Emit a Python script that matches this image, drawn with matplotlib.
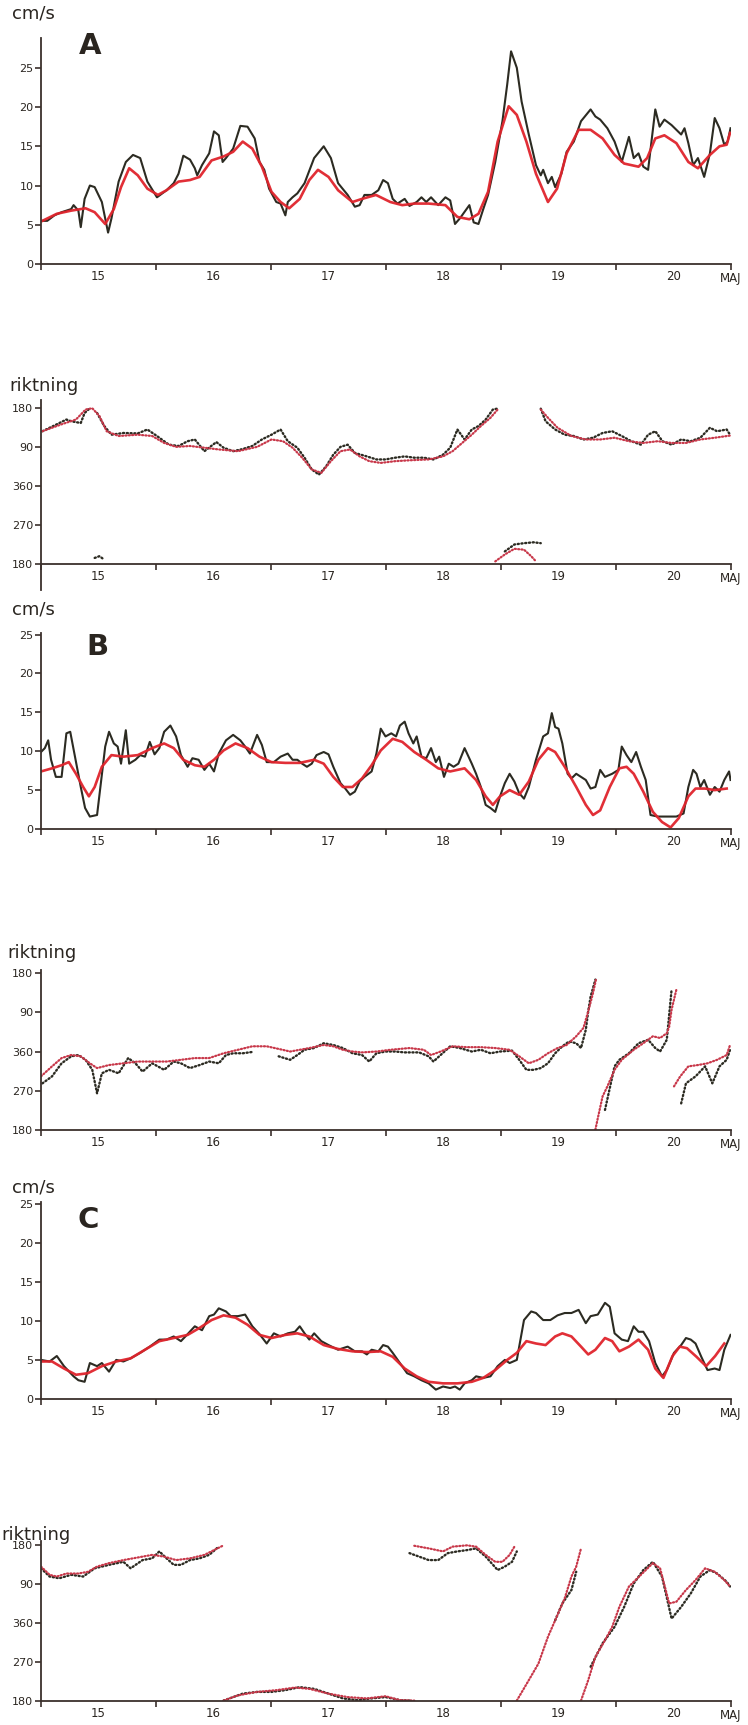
import numpy as np
import matplotlib.pyplot as plt

plt.rcParams['font.family'] = ['Liberation Sans Narrow', 'DejaVu Sans']

# ---- data (hours after 15 May 00:00) ----
nan = np.nan
day_labels = ['15', '16', '17', '18', '19', '20']
dir_ticks = [180, 270, 360, 450, 540]
dir_labels = ['180', '270', '360', '90', '180']

# station A, speed (cm/s)
a_raw_h = [0.3, 1.3, 2.8, 4.3, 6.3, 6.8, 7.8, 8.3, 9.1, 10.2, 11.2, 12.7, 14.0, 14.7, 16.2, 17.7, 19.2, 20.7,
           22.2, 24.2, 26.2, 27.7, 28.7, 29.7, 31.1, 32.1, 32.6, 33.6, 35.1, 36.1, 37.1, 37.9, 38.6, 40.1,
           41.6, 43.1, 44.6, 45.6, 46.6, 47.6, 49.1, 50.0, 51.0, 51.5, 52.5, 53.5, 55.0, 57.0, 59.0, 60.5,
           62.0, 63.2, 64.0, 65.5, 66.5, 67.5, 69.0, 70.4, 71.4, 72.4, 73.4, 74.4, 75.9, 76.9, 78.4, 79.4,
           80.4, 81.4, 82.9, 84.4, 85.4, 86.4, 87.4, 89.4, 90.3, 91.3, 92.3, 93.3, 94.8, 96.3, 97.3, 98.1,
           99.3, 100.3, 101.8, 103.3, 104.3, 104.8, 105.8, 106.6, 107.3, 108.6, 109.7, 111.2, 112.7, 114.7,
           115.7, 116.7, 118.2, 119.7, 121.2, 122.7, 123.7, 124.7, 125.7, 126.7, 128.2, 129.1, 130.1, 131.6,
           132.6, 133.6, 134.3, 135.1, 136.1, 137.1, 138.4, 139.6, 140.6, 141.6, 142.6, 143.3, 143.9]
a_raw_v = [5.5, 5.5, 6.2, 6.6, 7.0, 7.5, 6.8, 4.7, 8.3, 10.0, 9.8, 7.9, 4.0, 5.8, 10.5, 13.0, 13.9, 13.5,
           10.5, 8.5, 9.4, 10.3, 11.5, 13.8, 13.3, 12.2, 11.3, 12.6, 14.1, 16.9, 16.4, 13.0, 13.5, 14.7,
           17.6, 17.5, 16.0, 13.0, 12.0, 9.6, 7.9, 7.7, 6.2, 7.9, 8.5, 9.0, 10.3, 13.5, 15.0, 13.5,
           10.3, 9.4, 8.8, 7.3, 7.5, 8.8, 8.8, 9.4, 10.7, 10.3, 8.3, 7.7, 8.3, 7.4, 7.9, 8.5,
           7.9, 8.5, 7.5, 8.5, 8.1, 5.1, 5.8, 7.5, 5.3, 5.1, 7.0, 8.8, 13.0, 18.2, 22.9, 27.1,
           25.0, 20.7, 16.5, 12.6, 11.3, 12.0, 10.3, 11.1, 9.8, 11.5, 14.3, 15.6, 18.2, 19.7,
           18.8, 18.4, 17.3, 15.6, 13.0, 16.2, 13.5, 14.1, 12.4, 12.0, 19.7, 17.5, 18.4, 17.7,
           17.1, 16.5, 17.3, 15.4, 12.6, 13.5, 11.1, 14.1, 18.6, 17.3, 15.2, 15.6, 17.3]
a_fil_h = [0.3, 3.3, 6.3, 9.3, 11.2, 13.4, 15.2, 16.7, 18.4, 20.2, 22.2, 24.4, 26.2, 28.7, 31.1, 33.1,
           35.6, 38.1, 40.1, 42.1, 44.1, 46.1, 48.1, 50.0, 51.8, 54.0, 56.0, 57.8, 60.0, 62.0, 65.0,
           67.0, 69.9, 72.9, 75.4, 77.9, 80.9, 84.4, 86.9, 89.4, 91.3, 93.3, 95.3, 97.6, 99.3, 101.3,
           103.3, 105.8, 107.7, 109.7, 112.2, 114.7, 117.2, 119.7, 121.7, 124.7, 126.5, 128.2, 130.1,
           132.6, 135.1, 137.1, 139.6, 141.6, 143.1, 143.8]
a_fil_v = [5.5, 6.4, 6.8, 7.1, 6.6, 5.1, 7.0, 9.8, 12.2, 11.3, 9.6, 8.8, 9.4, 10.5, 10.7, 11.1,
           13.2, 13.7, 14.3, 15.6, 14.7, 12.4, 9.2, 7.9, 7.1, 8.3, 10.7, 12.0, 11.1, 9.4, 7.9,
           8.3, 8.8, 7.9, 7.5, 7.7, 7.7, 7.5, 6.0, 5.7, 6.4, 9.2, 15.6, 20.1, 19.0, 15.6,
           11.5, 7.9, 9.6, 14.1, 17.1, 17.1, 16.0, 13.9, 12.8, 12.4, 13.5, 16.0, 16.4,
           15.4, 13.0, 12.2, 13.9, 15.0, 15.2, 16.7]

# station A, direction (degrees)
a_dir_raw_h = [0.3, 3.3, 5.3, 6.3, 8.3, 9.1, 10.2, nan, 11.2, 12.2, 13.2, nan, 11.7, 13.2, 14.7, 17.2, 20.2,
               22.2, 24.2, 26.7, 28.7, 30.6, 32.1, 34.1, 36.6, 38.1, 40.1, 42.1, 44.1, 46.1, 48.1, 50.0,
               51.5, 53.5, 55.0, 56.5, 58.0, 59.5, 61.0, 62.5, 64.0, 65.5, 68.0, 70.0, 71.9, 73.9, 75.9,
               77.9, 79.9, 81.9, 83.9, 85.4, 86.9, 88.4, 89.9, 91.3, 92.8, 94.3, 95.6, nan,
               96.8, 98.8, 100.8, 102.8, 104.3, nan, 104.3, 105.3, 107.3, 109.3, 111.2, 113.2, 115.2,
               117.2, 119.2, 121.2, 123.2, 125.2, 126.7, 128.2, 129.7, 131.6, 133.6, 135.6, 137.6,
               139.6, 141.1, 143.1, 143.8]
a_dir_raw_d = [126, 142, 153, 149, 145, 168, 179, nan, 194, 198, 190, nan, 168, 138, 118, 122, 121,
               130, 115, 95, 92, 103, 107, 80, 101, 88, 80, 85, 92, 107, 118, 130,
               103, 88, 65, 38, 26, 45, 72, 90, 95, 76, 68, 61, 61, 65, 68,
               65, 65, 61, 72, 88, 130, 107, 130, 138, 153, 176, 179, nan,
               209, 225, 228, 230, 228, nan, 178, 149, 130, 118, 115, 107, 111,
               122, 126, 115, 103, 95, 118, 126, 103, 95, 107, 103, 111,
               134, 126, 130, 118]
a_dir_fil_h = [0.3, 4.3, 7.3, 9.3, 10.7, 12.2, 13.7, 16.2, 20.2, 23.2, 25.7, 28.2, 31.1, 34.1, 37.1,
               41.1, 45.1, 48.1, 50.5, 52.5, 54.5, 56.5, 58.5, 60.5, 62.5, 64.5, 66.5, 68.5, 70.9,
               73.9, 76.9, 80.9, 83.9, 85.9, 87.9, 89.9, 91.8, 93.8, 95.3, nan,
               94.8, 96.8, 98.8, 100.8, 102.3, 103.3, nan,
               104.3, 105.8, 107.8, 110.7, 113.7, 116.7, 119.7, 122.7, 125.7, 128.7, 131.6, 134.6,
               137.6, 140.6, 143.8]
a_dir_fil_d = [126, 142, 153, 176, 179, 161, 126, 115, 118, 115, 99, 90, 92, 88, 84,
               80, 90, 107, 103, 88, 65, 38, 30, 57, 80, 84, 68, 57, 53,
               57, 59, 61, 68, 80, 99, 118, 138, 157, 176, nan,
               186, 202, 215, 213, 198, 186, nan,
               176, 157, 134, 115, 107, 107, 111, 103, 99, 103, 99, 99,
               107, 111, 116]

# station B, speed
b_raw_h = [0, 0.8, 1.5, 2.1, 3.1, 4.3, 5.3, 6.1, 7.1, 8.3, 9.2, 10.2, 11.7, 12.4, 13.4, 14.2, 15.2,
           16.0, 16.7, 17.7, 18.4, 19.7, 20.7, 21.7, 22.7, 23.7, 24.7, 25.7, 27.0, 28.2, 29.2, 30.6,
           31.6, 32.9, 34.1, 35.1, 36.1, 37.1, 38.6, 40.1, 41.6, 42.6, 43.6, 45.1, 46.1, 47.1, 48.6,
           50.0, 51.5, 52.5, 53.5, 54.5, 55.5, 56.5, 57.5, 59.0, 60.0, 61.0, 62.5, 63.5, 64.5, 65.5,
           66.5, 67.5, 69.0, 70.0, 70.9, 71.9, 73.1, 74.1, 74.9, 75.9, 76.7, 77.7, 78.4, 79.4, 80.4,
           81.4, 82.4, 83.1, 84.1, 85.1, 86.1, 87.1, 88.4, 89.9, 90.8, 91.8, 92.8, 93.8, 94.8, 95.8,
           96.8, 97.8, 98.8, 99.8, 100.8, 101.8, 103.3, 104.8, 105.8, 106.6, 107.3, 108.0, 108.8,
           109.9, 110.7, 111.7, 112.7, 113.7, 114.7, 115.7, 116.7, 117.7, 119.2, 120.5, 121.2, 122.2,
           123.2, 124.2, 125.2, 126.2, 127.2, 128.7, 130.6, 132.6, 134.1, 135.1, 136.1, 136.8, 137.6,
           138.4, 139.6, 140.6, 141.6, 142.6, 143.6, 143.9]
b_raw_v = [9.9, 10.4, 11.4, 8.9, 6.7, 6.7, 12.3, 12.5, 9.3, 5.4, 2.7, 1.6, 1.8, 5.4, 10.6, 12.5, 11.0,
           10.6, 8.4, 12.7, 8.4, 8.9, 9.5, 9.3, 11.2, 9.6, 10.4, 12.5, 13.3, 11.9, 9.5, 8.0,
           9.1, 8.9, 7.6, 8.4, 7.4, 9.7, 11.4, 12.1, 11.4, 10.6, 9.7, 12.1, 10.8, 8.6, 8.6,
           9.3, 9.7, 8.9, 8.9, 8.4, 8.0, 8.4, 9.5, 9.9, 9.6, 8.0, 5.9, 5.2, 4.4, 4.8,
           6.1, 6.7, 7.4, 9.7, 12.9, 11.9, 12.3, 11.9, 13.3, 13.8, 12.3, 11.0, 11.9, 9.3, 9.1,
           10.4, 8.6, 9.3, 6.7, 8.4, 8.0, 8.4, 10.4, 8.4, 7.1, 5.4, 3.1, 2.7, 2.2, 4.2,
           5.9, 7.1, 6.1, 4.6, 3.9, 5.4, 8.9, 11.9, 12.3, 14.9, 13.1, 12.9, 11.0,
           7.1, 6.5, 7.1, 6.7, 6.3, 5.2, 5.4, 7.6, 6.7, 7.1, 7.6, 10.6, 9.5,
           8.6, 9.9, 8.0, 6.3, 1.8, 1.6, 1.6, 1.6, 2.0, 5.4, 7.6, 7.1, 5.4,
           6.3, 4.4, 5.4, 4.8, 6.3, 7.4, 6.3]
b_fil_h = [0, 2.3, 4.3, 5.8, 7.3, 8.8, 10.0, 11.2, 12.7, 14.7, 17.2, 20.2, 23.2, 25.7, 27.7, 29.7,
           32.1, 34.1, 36.1, 38.1, 40.6, 43.1, 45.6, 48.1, 51.0, 54.0, 57.0, 59.0, 61.0, 63.0, 65.0,
           67.0, 69.0, 70.9, 73.4, 75.4, 77.9, 80.4, 82.9, 85.4, 88.4, 90.8, 92.8, 94.3, 95.8, 97.8,
           99.8, 101.8, 103.8, 105.8, 107.3, 109.3, 111.7, 113.7, 115.2, 116.7, 118.7, 120.7, 122.2,
           123.7, 125.7, 127.7, 129.6, 131.4, 133.1, 135.1, 136.6, 138.6, 140.6, 143.1]
b_fil_v = [7.4, 7.8, 8.2, 8.6, 7.1, 5.4, 4.2, 5.4, 8.0, 9.5, 9.3, 9.5, 10.4, 11.0, 10.4, 8.9,
           8.2, 8.0, 8.9, 10.1, 11.0, 10.4, 9.3, 8.6, 8.5, 8.5, 8.9, 8.4, 6.7, 5.4, 5.4,
           6.5, 8.2, 10.1, 11.6, 11.2, 9.9, 8.9, 7.8, 7.4, 7.8, 6.3, 4.2, 3.1, 4.2, 5.0,
           4.4, 6.1, 8.9, 10.4, 9.9, 8.0, 5.4, 3.1, 1.8, 2.4, 5.4, 7.8, 8.0,
           7.1, 4.8, 2.2, 0.9, 0.2, 1.4, 4.2, 5.2, 5.2, 5.0, 5.2]

# station B, direction
b_dir_raw_h = [0.3, 2.3, 4.3, 6.3, 7.8, 9.3, 10.7, 11.7, 12.7, 14.2, 16.2, 18.2, 19.7, 21.2, 23.2, 25.7,
               27.7, 29.2, 31.1, 33.1, 35.1, 37.1, 38.6, 40.1, 42.1, 44.1, nan,
               49.6, 52.0, 53.5, 55.0, 57.0, 59.0, 61.0, 63.0, 65.0, 67.0, 68.5, 70.0, 71.9, 73.9, 75.9,
               78.9, 80.9, 81.9, 83.4, 85.4, 87.4, 89.9, 91.8, 93.8, 95.8, 98.3, 99.8, 101.3, 102.8,
               104.3, 105.8, 107.3, 108.8, 110.2, 111.7, 112.7, 113.7, 114.2, 114.7, 115.7, nan,
               117.7, 119.7, 120.7, 122.7, 124.7, 126.7, 128.2, 129.2, 130.6, 131.6, nan,
               133.6, 134.6, 136.6, 138.6, 140.1, 141.6, 143.1, 143.8]
b_dir_raw_d = [287, 303, 333, 349, 352, 341, 318, 264, 310, 318, 310, 345, 333, 314, 333, 318,
               337, 333, 322, 329, 337, 333, 352, 356, 356, 359, nan,
               349, 341, 352, 4, 8, 19, 15, 8, 356, 352, 337, 356, 0, 0, 358,
               358, 349, 337, 352, 12, 8, 0, 4, 356, 0, 2, 341, 318, 318,
               322, 333, 356, 12, 23, 19, 8, 50, 92, 126, 165, nan,
               226, 326, 341, 356, 19, 27, 8, 0, 27, 142, nan,
               241, 287, 303, 326, 287, 326, 341, 4]
b_dir_fil_h = [0, 2.3, 4.3, 6.3, 8.3, 10.2, 11.7, 14.2, 17.2, 20.2, 23.2, 26.2, 29.2, 32.1, 35.1, 38.1,
               41.1, 44.1, 47.1, 50.0, 52.0, 54.0, 56.0, 59.0, 61.0, 63.0, 65.0, 67.0, 70.0, 72.9,
               76.9, 79.9, 81.4, 83.4, 85.9, 88.9, 91.8, 94.8, 97.8, 99.8, 101.8, 103.8, 105.8, 107.8,
               109.7, 111.7, 113.2, 114.2, 115.2, 115.9, nan,
               115.7, 116.2, 117.2, 118.2, 119.7, 121.2, 123.7, 125.7, 127.7, 129.2, 130.6, 131.1,
               131.6, 132.6, nan, 132.1, 133.4, 135.1, 137.1, 139.1, 141.1, 143.1, 143.8]
b_dir_fil_d = [303, 326, 345, 352, 349, 333, 322, 329, 333, 337, 337, 337, 341, 345, 345, 356,
               4, 12, 12, 5, 0, 4, 8, 15, 12, 4, 0, 358, 0, 4,
               8, 4, 352, 0, 12, 10, 10, 8, 4, 349, 333, 341, 356, 8,
               15, 35, 54, 92, 134, 169, nan,
               181, 207, 257, 280, 318, 341, 4, 19, 35, 31, 42, 57,
               96, 142, nan, 280, 303, 326, 329, 333, 341, 352, 15]

# station C, speed
c_raw_h = [0, 1.8, 3.3, 4.8, 6.8, 7.8, 9.1, 10.2, 11.7, 12.7, 14.2, 15.7, 17.2, 18.7, 20.7, 22.7, 24.7,
           26.2, 27.7, 29.2, 30.6, 32.1, 33.6, 35.1, 36.1, 37.1, 38.6, 39.6, 41.1, 42.6, 44.1, 45.6,
           47.1, 48.6, 50.0, 51.5, 53.0, 54.0, 55.0, 56.0, 57.0, 58.5, 60.0, 62.0, 64.0, 65.5, 67.0,
           68.0, 69.0, 70.4, 71.4, 72.4, 73.4, 74.9, 76.4, 77.9, 79.4, 80.9, 82.4, 83.9, 85.4, 86.4,
           87.4, 88.4, 89.9, 90.8, 92.3, 93.8, 95.3, 96.8, 97.8, 99.3, 100.8, 102.3, 103.3, 104.8,
           106.3, 107.8, 109.3, 110.7, 112.2, 113.7, 114.7, 116.2, 117.7, 118.7, 119.7, 121.2, 122.5,
           123.7, 124.7, 125.7, 126.9, 128.2, 129.6, 130.6, 132.1, 133.6, 134.6, 135.6, 136.6, 137.8,
           139.1, 140.6, 141.6, 142.6, 143.9]
c_raw_v = [5.0, 4.8, 5.5, 4.2, 2.9, 2.4, 2.2, 4.6, 4.2, 4.6, 3.5, 5.0, 4.8, 5.2, 5.9, 6.7, 7.6,
           7.6, 8.0, 7.4, 8.3, 9.3, 8.8, 10.6, 10.8, 11.6, 11.2, 10.6, 10.6, 10.8, 9.3, 8.3,
           7.1, 8.4, 8.0, 8.4, 8.6, 9.3, 8.4, 7.6, 8.4, 7.4, 6.9, 6.3, 6.7, 6.1, 6.1,
           5.7, 6.3, 6.1, 6.9, 6.7, 5.9, 4.6, 3.3, 2.9, 2.4, 2.0, 1.2, 1.6, 1.4, 1.6,
           1.2, 2.0, 2.4, 2.9, 2.7, 2.9, 4.2, 5.0, 4.6, 5.0, 10.1, 11.2, 11.0, 10.1,
           10.1, 10.7, 11.0, 11.0, 11.4, 9.7, 10.6, 10.8, 12.3, 11.8, 8.4, 7.6, 7.4,
           9.3, 8.6, 8.6, 7.4, 4.6, 2.9, 3.7, 5.9, 6.9, 7.8, 7.6, 7.1, 5.4,
           3.7, 3.9, 3.7, 6.3, 8.2]
c_fil_h = [0, 2.3, 4.8, 7.3, 9.8, 12.7, 15.7, 18.7, 21.7, 24.7, 27.7, 30.6, 33.1, 35.6, 38.1, 40.6,
           43.1, 45.6, 48.1, 51.0, 53.5, 56.0, 59.0, 62.0, 65.0, 68.0, 70.9, 73.4, 75.9, 78.4, 80.9,
           83.9, 86.9, 89.9, 92.3, 94.8, 97.3, 99.3, 101.3, 103.3, 105.3, 107.3, 108.8, 110.7, 112.7,
           114.2, 115.7, 117.7, 119.2, 120.7, 122.7, 124.7, 126.7, 128.2, 129.9, 131.8, 133.3, 134.8,
           136.8, 138.8, 140.7, 142.6]
c_fil_v = [4.8, 4.8, 3.9, 3.1, 3.3, 4.2, 4.8, 5.2, 6.3, 7.4, 7.8, 8.2, 9.1, 10.1, 10.7, 10.4,
           9.5, 8.2, 7.8, 8.2, 8.4, 8.0, 6.9, 6.4, 6.1, 6.0, 6.1, 5.4, 3.9, 2.9, 2.2,
           2.0, 2.0, 2.2, 2.7, 3.7, 5.0, 5.9, 7.4, 7.1, 6.9, 8.0, 8.4, 8.0, 6.7,
           5.7, 6.3, 7.8, 7.4, 6.1, 6.7, 7.6, 6.3, 3.9, 2.7, 5.5, 6.7, 6.5,
           5.4, 4.2, 5.5, 7.1]

# station C, direction
c_dir_raw_h = [0, 1.8, 3.8, 6.3, 8.8, 11.2, 14.2, 17.2, 18.7, 21.2, 23.2, 24.7, 26.2, 27.7, 29.2, 31.1,
               33.1, 35.1, 37.1, nan,
               38.1, 40.1, 42.1, 45.1, 48.1, 51.0, 54.0, 57.0, 60.0, 63.0, 66.0, 69.0, 71.9, 74.9, 76.9,
               nan, 76.9, 78.9, 80.9, 82.9, 84.9, 86.9, 88.9, 90.8, 92.8, 95.3, 96.8, 98.3, 99.3, nan,
               107.3, 108.8, 110.7, 111.7, nan,
               114.7, 117.2, 119.7, 121.7, 123.7, 125.7, 127.7, 129.6, 131.6, 133.6, 135.6, 137.6,
               139.6, 141.1, 143.1, 143.8]
c_dir_raw_d = [126, 107, 103, 111, 107, 126, 134, 141, 126, 145, 149, 165, 149, 134, 134, 145,
               149, 157, 176, nan,
               181, 189, 197, 201, 201, 205, 212, 208, 197, 186, 182, 186, 189, 182, 181,
               nan, 161, 153, 145, 145, 161, 165, 168, 172, 153, 122, 130, 141, 165, nan,
               6, 45, 76, 118, nan,
               259, 313, 351, 37, 91, 122, 141, 107, 10, 37, 68, 107,
               122, 114, 95, 84]
c_dir_fil_h = [0, 1.8, 3.3, 5.3, 7.8, 9.8, 11.7, 14.2, 17.2, 20.2, 23.2, 25.7, 28.2, 31.1, 34.1, 36.1,
               38.1, nan,
               38.1, 41.1, 45.1, 49.1, 53.0, 56.0, 60.0, 64.0, 68.0, 71.9, 74.9, 77.9, nan,
               77.9, 80.9, 83.9, 85.9, 88.9, 90.8, 92.8, 94.8, 96.3, 97.8, 98.8, nan,
               99.3, 101.8, 103.8, 105.8, 107.3, 109.3, 110.7, 111.7, 112.7, nan,
               112.7, 114.2, 115.7, 117.7, 119.2, 120.7, 122.7, 125.2, 127.7, 129.2, 131.1, 132.6,
               134.6, 136.6, 138.6, 140.6, 142.6, 143.8]
c_dir_fil_d = [130, 111, 107, 114, 114, 118, 130, 138, 145, 151, 157, 153, 145, 149, 157, 168,
               179, nan,
               181, 193, 201, 205, 211, 208, 197, 189, 186, 191, 182, 181, nan,
               178, 172, 165, 176, 179, 176, 157, 141, 141, 157, 176, nan,
               181, 228, 266, 328, 6, 57, 107, 130, 172, nan,
               181, 228, 282, 320, 351, 37, 84, 111, 138, 126, 45, 49,
               76, 99, 126, 118, 99, 84]

# ---- drawing ----
W, H = 748, 1725
AXC = '#3b302c'
BLK = '#2c2b22'
RED = '#e0242c'
RDOT = '#c8384a'

fig = plt.figure(figsize=(W / 100, H / 100), dpi=100)


def make_ax(top, bottom):
    return fig.add_axes([41 / W, 1 - bottom / H, 690 / W, (bottom - top) / H])


def style(ax, ylim, yticks, ylabels):
    ax.set_xlim(15, 21)
    ax.set_ylim(*ylim)
    ax.patch.set_alpha(0)
    for s in ['top', 'right']:
        ax.spines[s].set_visible(False)
    for s in ['left', 'bottom']:
        ax.spines[s].set_color(AXC)
        ax.spines[s].set_linewidth(1.3)
    ax.set_xticks(range(15, 22))
    ax.set_xticklabels([''] * 6 + ['MAJ'])
    ax.set_xticks(np.arange(15.5, 21, 1), minor=True)
    ax.set_xticklabels(day_labels, minor=True)
    ax.tick_params(axis='x', which='major', length=4, width=1.2, color=AXC, pad=1.5,
                   labelsize=8.5, labelcolor='#2a2520')
    ax.tick_params(axis='x', which='minor', length=0, pad=4.5, labelsize=8.5, labelcolor='#2a2520')
    ax.set_yticks(yticks)
    ax.set_yticklabels(ylabels)
    ax.tick_params(axis='y', length=4, width=1.2, color=AXC, pad=1.5, labelsize=8,
                   labelcolor='#2a2520')


def to_days(h):
    return 15 + np.asarray(h, dtype=float) / 24


def unwrap(d):
    d = np.asarray(d, dtype=float)
    return np.where(d < 180, d + 360, d)


def speed_panel(top, bottom, ymax, raw_h, raw_v, fil_h, fil_v):
    ax = make_ax(top, bottom)
    ax.plot(to_days(raw_h), raw_v, color=BLK, lw=1.5, solid_joinstyle='round')
    ax.plot(to_days(fil_h), fil_v, color=RED, lw=1.9, alpha=0.95, solid_joinstyle='round')
    style(ax, (0, ymax), [0, 5, 10, 15, 20, 25], ['0', '5', '10', '15', '20', '25'])
    return ax


def dir_panel(top, bottom, ymax, raw_h, raw_d, fil_h, fil_d):
    ax = make_ax(top, bottom)
    ax.plot(to_days(raw_h), unwrap(raw_d), color=BLK, lw=1.7, ls=(0, (0.5, 1.1)),
            dash_capstyle='round')
    ax.plot(to_days(fil_h), unwrap(fil_d), color=RDOT, lw=1.6, ls=(0, (0.5, 1.0)),
            dash_capstyle='round')
    style(ax, (180, ymax), dir_ticks, dir_labels)
    return ax


speed_panel(38, 264, 28.8, a_raw_h, a_raw_v, a_fil_h, a_fil_v)
ax_ad = dir_panel(400, 564, 558, a_dir_raw_h, a_dir_raw_d, a_dir_fil_h, a_dir_fil_d)
ax_ad.spines['left'].set_bounds(120, 558)   # the drawn axis runs on below the baseline
speed_panel(633, 829, 25.2, b_raw_h, b_raw_v, b_fil_h, b_fil_v)
dir_panel(970, 1130, 547, b_dir_raw_h, b_dir_raw_d, b_dir_fil_h, b_dir_fil_d)
speed_panel(1202, 1399, 25.2, c_raw_h, c_raw_v, c_fil_h, c_fil_v)
dir_panel(1541, 1701, 549, c_dir_raw_h, c_dir_raw_d, c_dir_fil_h, c_dir_fil_d)

# axis titles and station letters
for y in [13, 609, 1188]:
    fig.text(12 / W, 1 - y / H, 'cm/s', fontsize=13, color='#2a2520', va='center', ha='left',
             family='DejaVu Sans')
for x, y in [(9, 386), (7, 953), (1, 1535)]:
    fig.text(x / W, 1 - y / H, 'riktning', fontsize=13, color='#2a2520', va='center', ha='left',
             family='DejaVu Sans')
for x, y, s in [(90, 46, 'A'), (97, 647, 'B'), (88, 1220, 'C')]:
    fig.text(x / W, 1 - y / H, s, fontsize=21, fontweight='bold', color='#2a2520',
             va='center', ha='center', family='DejaVu Sans')

fig.savefig('out.png', dpi=100, facecolor='white')
